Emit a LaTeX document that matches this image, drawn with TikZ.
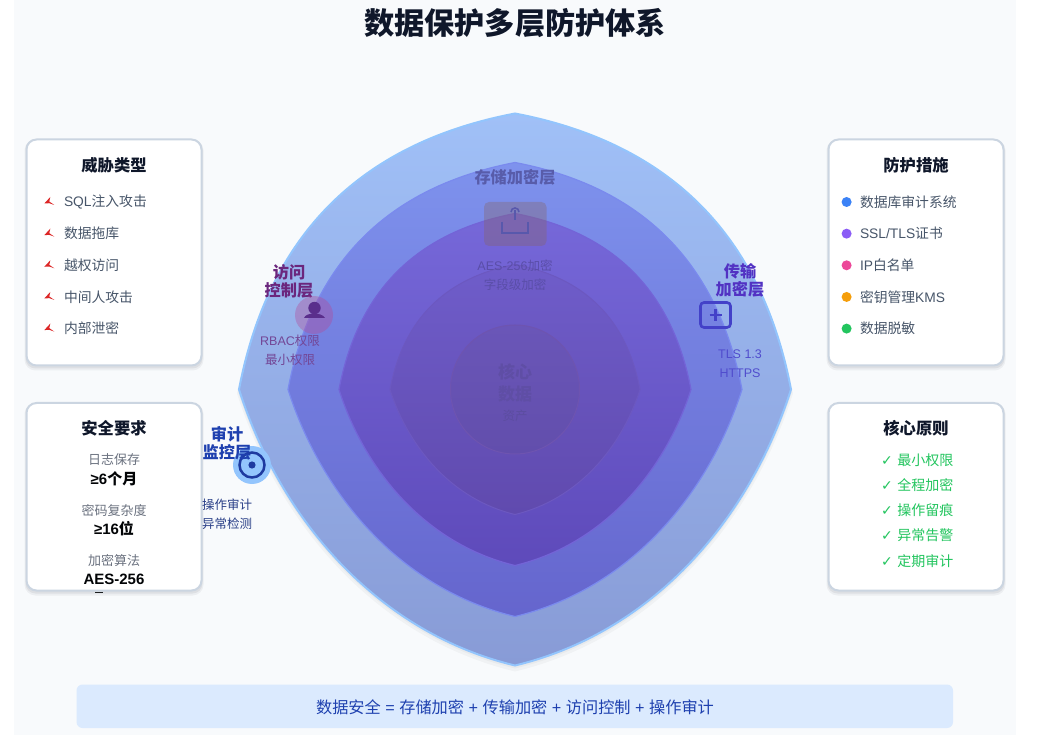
\documentclass[tikz,border=0pt]{standalone}
\usepackage{fontspec}
\setmainfont{Noto Sans CJK SC}
\newfontfamily\lat{Liberation Sans}
\newfontfamily\sym{DejaVu Sans}
\usetikzlibrary{positioning,calc}
\definecolor{cPage}{HTML}{F8FAFC}
\definecolor{cEdge}{HTML}{CBD5E1}
\definecolor{cInk}{HTML}{0F172A}
\definecolor{cItem}{HTML}{475569}
\definecolor{cMute}{HTML}{6B7280}
\definecolor{cGood}{HTML}{22C55E}
\definecolor{cBar}{HTML}{DBEAFE}
\definecolor{cBarText}{HTML}{1E40AF}
\definecolor{cThreat}{HTML}{DC2626}
\definecolor{cSky}{HTML}{93C5FD}
\definecolor{cOneTop}{HTML}{A0C0F7}
\definecolor{cOneLow}{HTML}{889BD6}
\definecolor{cTwoEdge}{HTML}{7A8AEE}
\definecolor{cTwoTop}{HTML}{7E92ED}
\definecolor{cTwoLow}{HTML}{6565CD}
\definecolor{cThreeEdge}{HTML}{7364D7}
\definecolor{cThreeTop}{HTML}{7668D9}
\definecolor{cThreeLow}{HTML}{5E4ABA}
\definecolor{cFourEdge}{HTML}{6C58C0}
\definecolor{cFourTop}{HTML}{6F5DCA}
\definecolor{cFourLow}{HTML}{604AAE}
\definecolor{cCoreEdge}{HTML}{6E54B0}
\definecolor{cCoreTop}{HTML}{6A56B8}
\definecolor{cCoreLow}{HTML}{624EAC}
\definecolor{cStore}{HTML}{585CAA}
\definecolor{cStoreBox}{HTML}{876464}
\definecolor{cStoreIcon}{HTML}{5858AC}
\definecolor{cStoreSub}{HTML}{5A4EA8}
\definecolor{cAccess}{HTML}{6B267D}
\definecolor{cAccessDisc}{HTML}{B54796}
\definecolor{cAccessIcon}{HTML}{5A2E8C}
\definecolor{cAccessSub}{HTML}{734696}
\definecolor{cTrans}{HTML}{5232C3}
\definecolor{cTransIcon}{HTML}{4341C8}
\definecolor{cTransSub}{HTML}{504CCD}
\definecolor{cAudit}{HTML}{1E3AA0}
\definecolor{cAuditSub}{HTML}{283E87}
\definecolor{cCoreText}{HTML}{5F4EA5}
\definecolor{cCoreSub}{HTML}{5C4DA0}
\definecolor{cDotA}{HTML}{3B82F6}
\definecolor{cDotB}{HTML}{8B5CF6}
\definecolor{cDotC}{HTML}{EC4899}
\definecolor{cDotD}{HTML}{F59E0B}
\definecolor{cDotE}{HTML}{22C55E}
\newcommand{\pxfont}[1]{\fontsize{#1}{18}\selectfont}
\newcommand{\lens}[1]{(0,{-#1}) .. controls ({.56*#1},{-.893*#1}) and ({.893*#1},{-.56*#1}) .. (#1,0)
  .. controls ({.85*#1},{.47*#1}) and ({.5*#1},{.88*#1}) .. (0,#1)
  .. controls ({-.5*#1},{.88*#1}) and ({-.85*#1},{.47*#1}) .. ({-#1},0)
  .. controls ({-.893*#1},{-.56*#1}) and ({-.56*#1},{-.893*#1}) .. cycle}
\newcommand{\cardbox}[2]{%
  \fill[black!35!cEdge,opacity=.10,rounded corners=11pt] ($(#1)+(-2,0)$) rectangle ($(#2)+(2,5)$);
  \fill[black!35!cEdge,opacity=.14,rounded corners=10pt] ($(#1)+(-1,0)$) rectangle ($(#2)+(1,3)$);
  \draw[cardline] (#1) rectangle (#2);}
\newcommand{\threat}[1]{\fill[cThreat,shift={($(#1.west)+(-19.5,0)$)}]
  (0,1.5) -- (6,-5) -- (5,-.5) -- (10,3) -- (5,1.2) -- cycle;}
\tikzset{
  cardline/.style={draw=cEdge,line width=2pt,fill=white,rounded corners=10pt},
  cardhead/.style={font=\pxfont{16.3}\bfseries,text=cInk,inner sep=0pt},
  itemtxt/.style={font=\pxfont{13.8},text=cItem,text width=125pt,align=left,minimum height=16pt,inner sep=0pt},
  bdot/.style={circle,inner sep=0pt,minimum size=10pt},
  reqname/.style={font=\pxfont{13},text=cMute,inner sep=0pt},
  reqval/.style={font=\pxfont{15}\bfseries,text=black!85!cInk,inner sep=0pt},
  okitem/.style={font=\pxfont{14},text=cGood,text width=90pt,align=left,minimum height=16pt,inner sep=0pt},
  laylab/.style={font=\pxfont{16.2}\bfseries,align=center,inner sep=0pt},
  laysub/.style={font=\pxfont{12.5},align=center,inner sep=0pt},
}
\begin{document}
\begin{tikzpicture}[x=1pt,y=-1pt,node distance=15.25pt]
    \useasboundingbox (0,0) rectangle (1053,735);
    \fill[white] (0,0) rectangle (1053,735);
    \fill[cPage] (14,0) rectangle (1016,735);

    % layers
    \begin{scope}[shift={(515,389.5)}]
      \fill[black,opacity=.03] [yshift=-4pt] \lens{278};
      \fill[black,opacity=.03] [yshift=-2pt] \lens{277};
      \path[draw=cSky,line width=2pt,top color=cOneTop,bottom color=cOneLow] \lens{276};
      \path[draw=cTwoEdge,line width=1.2pt,top color=cTwoTop,bottom color=cTwoLow] \lens{227};
      \path[draw=cThreeEdge,line width=1.2pt,top color=cThreeTop,bottom color=cThreeLow] \lens{176};
      \path[draw=cFourEdge,line width=1pt,top color=cFourTop,bottom color=cFourLow] \lens{125};
      \path[draw=cCoreEdge,line width=1pt,top color=cCoreTop,bottom color=cCoreLow] (0,0) circle (64.5);
    \end{scope}

    % title and formula
    \node[font=\pxfont{30.2}\bfseries,text=cInk,inner sep=0pt] (title) at (515,23) {数据保护多层防护体系};
    \fill[cBar,rounded corners=6pt] (76.5,684.5) rectangle (953,728);
    \node[font=\pxfont{16.2},text=cBarText,inner sep=0pt] (formula) at (515,707) {数据安全{\lat\ =\ }存储加密{\lat\ +\ }传输加密{\lat\ +\ }访问控制{\lat\ +\ }操作审计};

    % threats
    \cardbox{26.5,139.5}{201.5,365.5}
    \node[cardhead] (threathead) at (114,165) {威胁类型};
    \node[itemtxt] (t1) at (126.5,202) {{\lat SQL}注入攻击};
    \node[itemtxt,below=of t1] (t2) {数据拖库};
    \node[itemtxt,below=of t2] (t3) {越权访问};
    \node[itemtxt,below=of t3] (t4) {中间人攻击};
    \node[itemtxt,below=of t4] (t5) {内部泄密};
    \threat{t1} \threat{t2} \threat{t3} \threat{t4} \threat{t5}

    % measures
    \cardbox{828.5,139.5}{1003.5,365.5}
    \node[cardhead] (measurehead) at (916,165) {防护措施};
    \node[itemtxt] (m1) at (922.5,202) {数据库审计系统};
    \node[itemtxt,below=of m1] (m2) {{\lat SSL/TLS}证书};
    \node[itemtxt,below=of m2] (m3) {{\lat IP}白名单};
    \node[itemtxt,below=of m3] (m4) {密钥管理{\lat KMS}};
    \node[itemtxt,below=of m4] (m5) {数据脱敏};
    \node[bdot,fill=cDotA,left=8pt of m1] (d1) {};
    \node[bdot,fill=cDotB,left=8pt of m2] (d2) {};
    \node[bdot,fill=cDotC,left=8pt of m3] (d3) {};
    \node[bdot,fill=cDotD,left=8pt of m4] (d4) {};
    \node[bdot,fill=cDotE,left=8pt of m5] (d5) {};

    % requirements
    \fill[black] (95,591.6) rectangle (103,592.8);
    \cardbox{26.5,403}{201.5,590.5}
    \node[cardhead] (reqhead) at (114,428) {安全要求};
    \node[reqname] (r1) at (114,460) {日志保存};
    \node[reqval] (v1) at (114,479) {{\lat ≥6}个月};
    \node[reqname] (r2) at (114,510) {密码复杂度};
    \node[reqval] (v2) at (114,529) {{\lat ≥16}位};
    \node[reqname] (r3) at (114,561) {加密算法};
    \node[reqval] (v3) at (114,579) {\lat AES-256};

    % principles
    \cardbox{828.5,403}{1003.5,590.5}
    \node[cardhead] (corehead) at (916,428) {核心原则};
    \node[okitem] (c1) at (926,460) {{\sym ✓}{\lat\ }最小权限};
    \node[okitem] (c2) at (926,485) {{\sym ✓}{\lat\ }全程加密};
    \node[okitem] (c3) at (926,510) {{\sym ✓}{\lat\ }操作留痕};
    \node[okitem] (c4) at (926,535) {{\sym ✓}{\lat\ }异常告警};
    \node[okitem] (c5) at (926,561) {{\sym ✓}{\lat\ }定期审计};

    % storage layer
    \node[laylab,text=cStore] (storelab) at (515,177) {存储加密层};
    \fill[cStoreBox,opacity=.35,rounded corners=5pt] (484,202) rectangle (546.5,246);
    \draw[line width=2pt,cStoreIcon] (502,222) -- (502,233.5) -- (528,233.5) -- (528,222);
    \draw[line width=2pt,cStoreIcon] (515,220) -- (515,210);
    \draw[line width=1.6pt,cStoreIcon] (511,212) arc[start angle=180,end angle=360,radius=4];
    \node[laysub,text=cStoreSub] (storesub) at (515,275.5) {{\lat AES-256}加密\\[1pt]字段级加密};

    % access layer
    \node[laylab,text=cAccess] (accesslab) at (289,281) {访问\\控制层};
    \fill[cAccessDisc,opacity=.36] (314,315) circle (19);
    \fill[cAccessIcon] (314.5,308) circle (6.2);
    \fill[cAccessIcon] (304,318) .. controls (306,312) and (322,312) .. (325,318) -- cycle;
    \node[laysub,text=cAccessSub] (accesssub) at (290,350.5) {{\lat RBAC}权限\\[1pt]最小权限};

    % transport layer
    \node[laylab,text=cTrans] (translab) at (740,280.5) {传输\\加密层};
    \draw[line width=2.6pt,cTransIcon,rounded corners=3.5pt] (700.5,302.5) rectangle (730.5,327.5);
    \draw[line width=2.2pt,cTransIcon] (709.5,315) -- (721.5,315) (715.5,309) -- (715.5,321);
    \node[laysub,text=cTransSub] (transsub) at (740,363.5) {{\lat TLS 1.3}\\[1pt]{\lat HTTPS}};

    % audit layer
    \fill[cSky] (252,465) circle (19);
    \draw[line width=2.5pt,cAudit] (252,465) circle (12.5);
    \fill[cAudit] (252,465) circle (3.6);
    \node[laylab,text=cBarText] (auditlab) at (227,443) {审计\\监控层};
    \node[laysub,text=cAuditSub] (auditsub) at (227,514) {操作审计\\[1pt]异常检测};

    % core
    \node[font=\pxfont{17}\bfseries,align=center,inner sep=0pt,text=cCoreText] (corelab) at (515,383) {核心\\[4pt]数据};
    \node[font=\pxfont{12.5},inner sep=0pt,text=cCoreSub] (coresub) at (515,416) {资产};
\end{tikzpicture}
\end{document}
